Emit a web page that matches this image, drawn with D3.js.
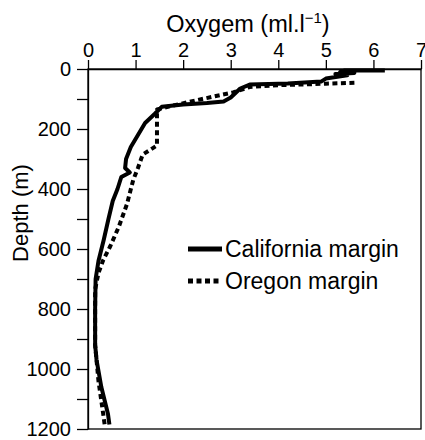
<!DOCTYPE html>
<html>
  <head>
    <style>
    body { margin: 0px; overflow: hidden; background: white; }
    text { font-family: Arial, "Liberation Sans", sans-serif; fill: black; }
    .tick line, .domain { stroke: black; stroke-width: 1.3; }
    </style>
    <script src="https://d3js.org/d3.v7.min.js"></script>
  </head>
  <body>
    <svg width="425" height="440"></svg>
    <script>
        // oxygen (ml/l) vs depth (m)
        const californiaOxygen = [6.24, 5.4, 5.3, 5.6, 5.2, 5.45, 5.0, 4.9, 4.2, 3.4, 3.2, 3.0, 2.85, 2.5, 2.0, 1.55, 1.4, 1.2, 1.05, 0.9, 0.8, 0.78, 0.88, 0.7, 0.62, 0.52, 0.43, 0.33, 0.22, 0.16, 0.15, 0.15, 0.18, 0.28, 0.42, 0.45];
        const californiaDepth = [5, 5, 10, 13, 17, 21, 32, 42, 48, 52, 65, 95, 108, 113, 118, 126, 150, 180, 220, 260, 300, 330, 345, 360, 400, 440, 500, 570, 640, 700, 800, 920, 970, 1060, 1150, 1185];

        const oregonOxygen = [5.6, 5.0, 4.0, 3.4, 3.05, 2.4, 1.7, 1.45, 1.45, 1.15, 1.05, 0.95, 0.82, 0.65, 0.47, 0.32, 0.22, 0.15, 0.15, 0.22, 0.32, 0.35];
        const oregonDepth = [46, 49, 54, 60, 78, 100, 125, 135, 255, 285, 330, 370, 450, 525, 590, 637, 680, 735, 920, 1040, 1150, 1185];

        const xTicks = [0, 1, 2, 3, 4, 5, 6, 7];
        const yTicks = [0, 200, 400, 600, 800, 1000, 1200];
        const yMinorTicks = [100, 300, 500, 700, 900, 1100];

        const series = [
            {name: 'California margin', ox: californiaOxygen, depth: californiaDepth, dash: null},
            {name: 'Oregon margin', ox: oregonOxygen, depth: oregonDepth, dash: '5,3.5'}
        ];

        const svg = d3.select('svg');
        const margin = { top: 69, right: 4, bottom: 11, left: 88 };
        const innerWidth = 425 - margin.left - margin.right;
        const innerHeight = 440 - margin.top - margin.bottom;

        const g = svg.append('g')
            .attr('transform', `translate(${margin.left},${margin.top})`);

        const xScale = d3.scaleLinear().domain([0, 7]).range([0, innerWidth]);
        const yScale = d3.scaleLinear().domain([0, 1200]).range([0, innerHeight]);

        // frame
        g.append('rect')
            .attr('width', innerWidth)
            .attr('height', innerHeight)
            .attr('fill', 'none')
            .attr('stroke', 'black')
            .attr('stroke-width', 1.3);

        const xAxisG = g.append('g')
            .call(d3.axisTop(xScale).tickValues(xTicks).tickFormat(d3.format('d'))
                .tickSize(9).tickPadding(3).tickSizeOuter(0));
        xAxisG.attr('font-size', 20).attr('font-family', null);
        xAxisG.selectAll('.tick text').attr('dy', '0em');

        const yAxisG = g.append('g')
            .call(d3.axisLeft(yScale).tickValues(yTicks).tickFormat(d3.format('d'))
                .tickSize(11).tickPadding(6).tickSizeOuter(0));
        yAxisG.attr('font-size', 20).attr('font-family', null);

        g.append('g')
            .call(d3.axisLeft(yScale).tickValues(yMinorTicks).tickSize(11).tickFormat(''))
            .select('.domain').remove();

        // axis titles
        const title = svg.append('text')
            .attr('x', 248)
            .attr('y', 32)
            .attr('text-anchor', 'middle')
            .attr('font-size', '23.5px');
        title.append('tspan').text('Oxygem (ml.l');
        title.append('tspan').attr('font-size', '15px').attr('dy', '-9').text('\u22121');
        title.append('tspan').attr('dy', '9').text(')');

        svg.append('text')
            .attr('transform', 'rotate(-90)')
            .attr('x', -213)
            .attr('y', 28)
            .attr('text-anchor', 'middle')
            .attr('font-size', '22px')
            .text('Depth (m)');

        const line = d3.line()
            .x(d => xScale(d[0]))
            .y(d => yScale(d[1]));

        g.selectAll('.series').data(series)
            .enter().append('path')
            .attr('class', 'series')
            .attr('d', s => line(s.ox.map((v, i) => [v, s.depth[i]])))
            .attr('fill', 'none')
            .attr('stroke', 'black')
            .attr('stroke-width', 4)
            .attr('stroke-linejoin', 'round')
            .attr('stroke-dasharray', s => s.dash);

        // legend
        const legend = svg.append('g');
        legend.selectAll('line').data(series)
            .enter().append('line')
            .attr('x1', 188)
            .attr('x2', 222)
            .attr('y1', (d, i) => 249 + 32 * i)
            .attr('y2', (d, i) => 249 + 32 * i)
            .attr('stroke', 'black')
            .attr('stroke-width', 5)
            .attr('stroke-dasharray', d => d.dash);
        legend.selectAll('text').data(series)
            .enter().append('text')
            .attr('x', 225)
            .attr('y', (d, i) => 249 + 32 * i)
            .attr('dy', '0.35em')
            .attr('font-size', '23px')
            .text(d => d.name);
    </script>
  </body>
</html>
